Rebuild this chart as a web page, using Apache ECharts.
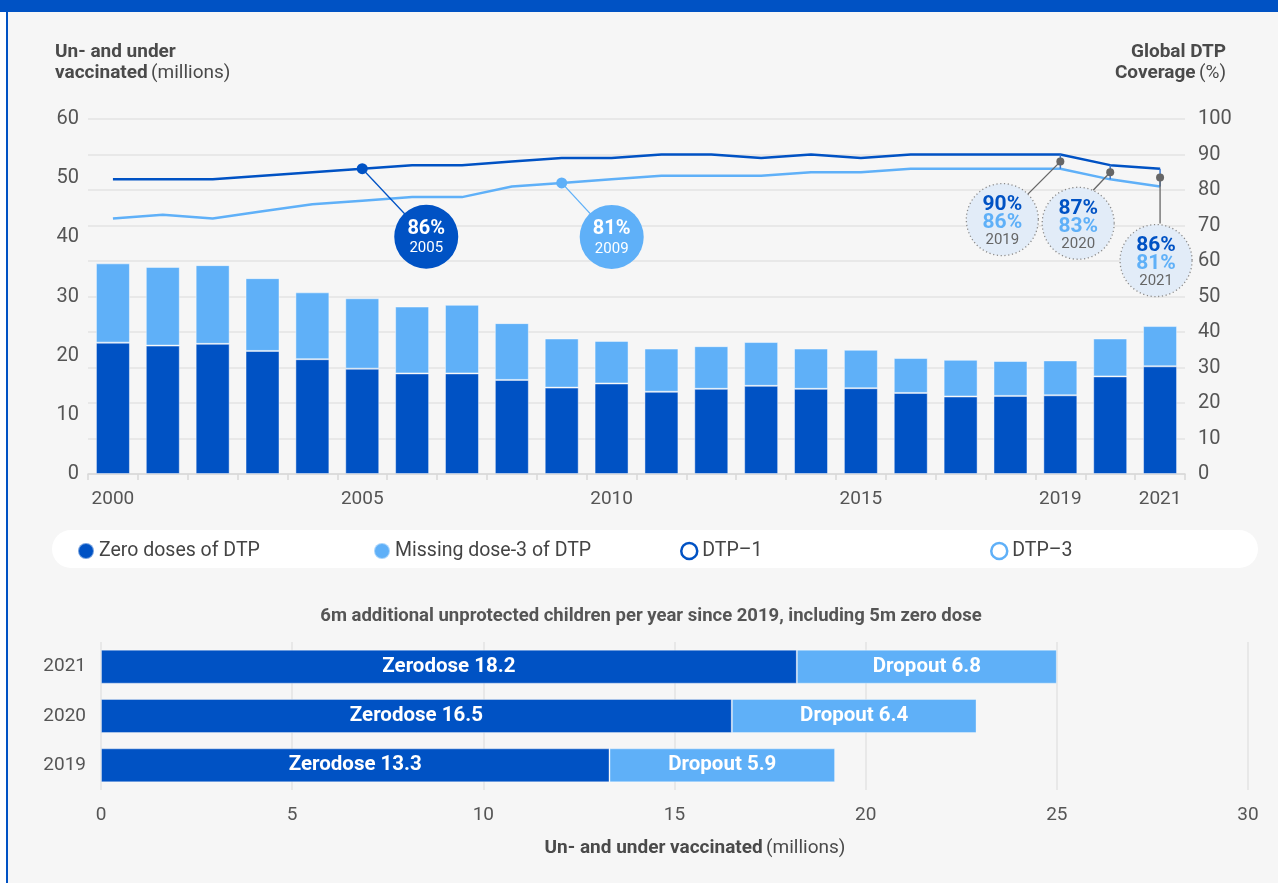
<!DOCTYPE html>
<html>
<head>
<meta charset="utf-8">
<script src="https://cdn.jsdelivr.net/npm/echarts@6/dist/echarts.min.js"></script>
<style>
html,body{margin:0;padding:0;background:#fff;width:1278px;height:883px;overflow:hidden;}
#frame{position:absolute;left:6px;top:0;width:1272px;height:883px;background:#f6f6f6;border-left:2px solid #0052c4;box-sizing:border-box;}
#band{position:absolute;left:0;top:0;width:1278px;height:12px;background:#0052c4;}
#chart{position:absolute;left:0;top:0;width:1278px;height:883px;}
</style>
</head>
<body>
<div id="frame"></div>
<div id="band"></div>
<div id="chart"></div>
<script>
// ---- data ----
const years = ['2000','2001','2002','2003','2004','2005','2006','2007','2008','2009','2010','2011','2012','2013','2014','2015','2016','2017','2018','2019','2020','2021'];
const shownYears = ['2000','2005','2010','2015','2019','2021'];
const zeroDoses = [22.2,21.7,22.0,20.8,19.4,17.8,17.0,17.0,15.9,14.6,15.3,13.9,14.4,14.9,14.4,14.5,13.7,13.1,13.2,13.3,16.5,18.2];
const missingDose3 = [13.4,13.3,13.3,12.3,11.3,11.9,11.3,11.6,9.6,8.3,7.2,7.3,7.2,7.4,6.8,6.5,5.9,6.2,5.9,5.9,6.4,6.8];
const dtp1 = [83,83,83,84,85,86,87,87,88,89,89,90,90,89,90,89,90,90,90,90,87,86];
const dtp3 = [72,73,72,74,76,77,78,78,81,82,83,84,84,84,85,85,86,86,86,86,83,81];
const recentYears = ['2019','2020','2021'];
const recentZero = [13.3,16.5,18.2];
const recentDropout = [5.9,6.4,6.8];
const leftTicks = [0,60,10];   // min,max,interval
const rightTicks = [0,100,10];
const bottomTicks = [0,30,5];

const DARK = '#0052c4', LIGHT = '#5fb0f8', TXT = '#555', TITLE = '#4a4a4a';
const FONT = 'Roboto';

const chart = echarts.init(document.getElementById('chart'), null, {renderer:'canvas'});

function specialSymbol(arr, idx){
  return arr.map((v,i)=> i===idx ? {value:v, symbol:'circle', symbolSize:11} : v);
}

const legendBase = {top:541, padding:0, itemWidth:16, itemHeight:16, textStyle:{fontSize:19.5, color:'#444', fontFamily:FONT}};

const option = {
  animation:false,
  textStyle:{fontFamily:FONT},
  grid:[
    {left:88, right:93, top:119, height:355},
    {left:101, width:1147, top:642, height:148}
  ],
  xAxis:[
    {type:'category', gridIndex:0, data:years, boundaryGap:true,
     axisLine:{lineStyle:{color:'#d8d8d8', width:1.5}},
     axisTick:{show:true, interval:0, length:6, lineStyle:{color:'#d8d8d8', width:1.5}},
     axisLabel:{interval:(i,v)=>shownYears.includes(v), color:TXT, fontSize:19, margin:16, fontFamily:FONT}},
    {type:'value', gridIndex:1, min:bottomTicks[0], max:bottomTicks[1], interval:bottomTicks[2],
     axisLine:{show:false}, axisTick:{show:false},
     splitLine:{lineStyle:{color:'#e3e3e3', width:1.5}},
     axisLabel:{color:TXT, fontSize:19, margin:16, fontFamily:FONT}}
  ],
  yAxis:[
    {type:'value', gridIndex:0, min:leftTicks[0], max:leftTicks[1], interval:leftTicks[2],
     axisLine:{show:false}, axisTick:{show:false}, splitLine:{show:false},
     axisLabel:{color:TXT, fontSize:20, margin:9, fontFamily:FONT}},
    {type:'value', gridIndex:0, position:'right', min:rightTicks[0], max:rightTicks[1], interval:rightTicks[2],
     axisLine:{show:false}, axisTick:{show:false},
     splitLine:{show:true, lineStyle:{color:'#e3e3e3', width:1.5}},
     axisLabel:{color:TXT, fontSize:20, margin:13, fontFamily:FONT}},
    {type:'category', gridIndex:1, data:recentYears,
     axisLine:{show:false}, axisTick:{show:false},
     axisLabel:{color:TXT, fontSize:19, margin:15, fontFamily:FONT}}
  ],
  legend:[
    Object.assign({left:77, data:[{name:'Zero doses of DTP', icon:'circle'}]}, legendBase),
    Object.assign({left:373, data:[{name:'Missing dose-3 of DTP', icon:'circle'}]}, legendBase),
    Object.assign({left:680, data:[{name:'DTP–1', icon:'circle', itemStyle:{color:'#fff', borderColor:DARK, borderWidth:2.5}}]}, legendBase),
    Object.assign({left:990, data:[{name:'DTP–3', icon:'circle', itemStyle:{color:'#fff', borderColor:LIGHT, borderWidth:2.5}}]}, legendBase)
  ],
  series:[
    {name:'Zero doses of DTP', type:'bar', xAxisIndex:0, yAxisIndex:0, stack:'a', data:zeroDoses, barWidth:34,
     itemStyle:{color:DARK, borderColor:'rgba(255,255,255,0.45)', borderWidth:1}},
    {name:'Missing dose-3 of DTP', type:'bar', xAxisIndex:0, yAxisIndex:0, stack:'a', data:missingDose3, barWidth:34,
     itemStyle:{color:LIGHT, borderColor:'rgba(255,255,255,0.45)', borderWidth:1}},
    {name:'DTP–1', type:'line', xAxisIndex:0, yAxisIndex:1, data:specialSymbol(dtp1,5), symbol:'none', showSymbol:true,
     lineStyle:{color:DARK, width:2.5}, itemStyle:{color:DARK}, z:5},
    {name:'DTP–3', type:'line', xAxisIndex:0, yAxisIndex:1, data:specialSymbol(dtp3,9), symbol:'none', showSymbol:true,
     lineStyle:{color:LIGHT, width:2.5}, itemStyle:{color:LIGHT}, z:5},
    {name:'Zerodose', type:'bar', xAxisIndex:1, yAxisIndex:2, stack:'b', data:recentZero, barWidth:34,
     itemStyle:{color:DARK, borderColor:'rgba(255,255,255,0.35)', borderWidth:1},
     label:{show:true, position:'inside', formatter:p=>'Zerodose '+p.value, color:'#fff', fontWeight:'bold', fontSize:20.5, fontFamily:FONT}},
    {name:'Dropout', type:'bar', xAxisIndex:1, yAxisIndex:2, stack:'b', data:recentDropout, barWidth:34,
     itemStyle:{color:LIGHT, borderColor:'rgba(255,255,255,0.35)', borderWidth:1},
     label:{show:true, position:'inside', formatter:p=>'Dropout '+p.value, color:'#fff', fontWeight:'bold', fontSize:20.5, fontFamily:FONT}}
  ]
};
chart.setOption(option);

// ---- annotations (positions derived from data through the chart scales) ----
const px = (i, v) => chart.convertToPixel({xAxisIndex:0, yAxisIndex:1}, [i, v]);
const g = [];
// static texts
g.push({type:'rect', shape:{x:52, y:530, width:1206, height:38, r:19}, style:{fill:'#fff'}, z:-1});
g.push({type:'text', x:55, y:52, style:{text:'Un- and under', font:'bold 19px '+FONT, fill:TITLE, textVerticalAlign:'middle'}});
g.push({type:'text', x:55, y:73, style:{rich:{b:{font:'bold 19px '+FONT, fill:TITLE}, n:{font:'19px '+FONT, fill:TITLE}}, text:'{b|vaccinated} {n|(millions)}', textVerticalAlign:'middle'}});
g.push({type:'text', x:1226, y:52, style:{text:'Global DTP', font:'bold 19px '+FONT, fill:TITLE, textAlign:'right', textVerticalAlign:'middle'}});
g.push({type:'text', x:1226, y:73, style:{rich:{b:{font:'bold 19px '+FONT, fill:TITLE}, n:{font:'19px '+FONT, fill:TITLE}}, text:'{b|Coverage} {n|(%)}', textAlign:'right', textVerticalAlign:'middle'}});
g.push({type:'text', x:651, y:616, style:{text:'6m additional unprotected children per year since 2019, including 5m zero dose', font:'bold 18.5px '+FONT, fill:'#555', textAlign:'center', textVerticalAlign:'middle'}});
g.push({type:'text', x:695, y:848, style:{rich:{b:{font:'bold 19px '+FONT, fill:TITLE}, n:{font:'19px '+FONT, fill:TITLE}}, text:'{b|Un- and under vaccinated} {n|(millions)}', textAlign:'center', textVerticalAlign:'middle'}});

// solid callouts
const solidCallouts = [
  {idx:5, arr:dtp1, color:DARK, off:[64,68], r:32, pct:'86%', yr:'2005'},
  {idx:9, arr:dtp3, color:LIGHT, off:[50,54], r:32, pct:'81%', yr:'2009'}
];
solidCallouts.forEach(c=>{
  const p = px(c.idx, c.arr[c.idx]);
  const cx = p[0]+c.off[0], cy = p[1]+c.off[1];
  g.push({type:'line', shape:{x1:p[0], y1:p[1], x2:cx, y2:cy}, style:{stroke:c.color, lineWidth:1.3}, z:10});
  g.push({type:'circle', shape:{cx:cx, cy:cy, r:c.r}, style:{fill:c.color}, z:11});
  g.push({type:'text', x:cx, y:cy-8, style:{text:c.pct, font:'bold 20px '+FONT, fill:'#fff', textAlign:'center', textVerticalAlign:'middle'}, z:12});
  g.push({type:'text', x:cx, y:cy+12, style:{text:c.yr, font:'15px '+FONT, fill:'#fff', textAlign:'center', textVerticalAlign:'middle'}, z:12});
});

// dotted callouts for recent years
const dottedCallouts = [
  {idx:19, end:[-33,33], off:[-58,58], t1:'90%', t3:'86%'},
  {idx:20, end:[-17,18], off:[-32,51], t1:'87%', t3:'83%'},
  {idx:21, end:[0,46], off:[-4,83], t1:'86%', t3:'81%'}
];
dottedCallouts.forEach(c=>{
  const p1 = px(c.idx, dtp1[c.idx]);
  const p3 = px(c.idx, dtp3[c.idx]);
  const mx = p1[0], my = (p1[1]+p3[1])/2;
  const cx = mx+c.off[0], cy = my+c.off[1];
  g.push({type:'line', shape:{x1:p1[0], y1:p1[1], x2:p3[0], y2:p3[1]}, style:{stroke:'#3a78d0', lineWidth:1.5}, z:10});
  g.push({type:'line', shape:{x1:mx, y1:my, x2:mx+c.end[0], y2:my+c.end[1]}, style:{stroke:'#666', lineWidth:1.3}, z:10});
  g.push({type:'circle', shape:{cx:mx, cy:my, r:4}, style:{fill:'#666'}, z:11});
  g.push({type:'circle', shape:{cx:cx, cy:cy, r:36}, style:{fill:'#e2ecf8', stroke:'#8a8a8a', lineWidth:1.3, lineDash:[1.2,2.6]}, z:11});
  g.push({type:'text', x:cx, y:cy-15, style:{text:c.t1, font:'bold 21px '+FONT, fill:DARK, textAlign:'center', textVerticalAlign:'middle'}, z:12});
  g.push({type:'text', x:cx, y:cy+3, style:{text:c.t3, font:'bold 21px '+FONT, fill:LIGHT, textAlign:'center', textVerticalAlign:'middle'}, z:12});
  g.push({type:'text', x:cx, y:cy+21, style:{text:recentYears[c.idx-19], font:'15px '+FONT, fill:'#666', textAlign:'center', textVerticalAlign:'middle'}, z:12});
});

chart.setOption({graphic:g});
</script>
</body>
</html>
